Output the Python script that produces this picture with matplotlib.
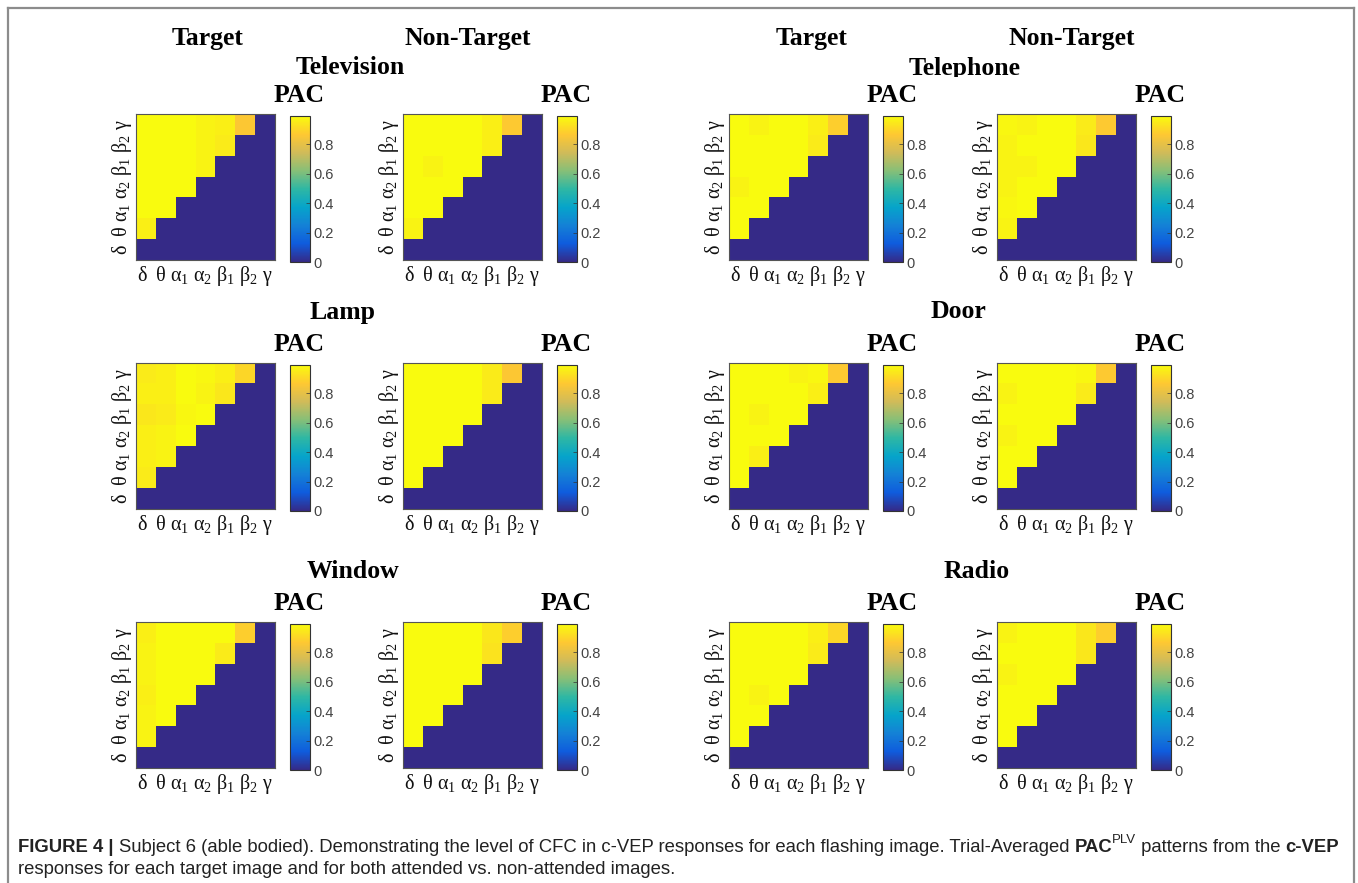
"""Figure 4 -- trial-averaged PAC(PLV) matrices, target vs non-target, 6 flashing images."""
import numpy as np
import matplotlib
matplotlib.use("Agg")
import matplotlib.pyplot as plt
from matplotlib.colors import LinearSegmentedColormap
from matplotlib.lines import Line2D
from matplotlib.patches import Rectangle

# band order (bottom -> top / left -> right)
BANDS = ["δ", "θ", "α1", "α2", "β1", "β2", "γ"]
OBJECTS = ["Television", "Telephone", "Lamp", "Door", "Window", "Radio"]
CONDITIONS = ["Target", "Non-Target"]
CBAR_TICKS = [0, 0.2, 0.4, 0.6, 0.8]

# PAC values, rows listed top (gamma) -> theta, columns delta -> ...
TV_TARGET = [[0.99, 0.99, 0.99, 0.97, 0.96, 0.86],
             [0.99, 0.99, 0.99, 0.97, 0.95],
             [0.99, 0.99, 0.99, 0.97],
             [0.99, 0.99, 0.99],
             [0.99, 0.99],
             [0.96]]
TV_NONTARGET = [[0.99, 0.99, 0.99, 0.99, 0.96, 0.87],
                [0.99, 0.99, 0.99, 0.99, 0.96],
                [0.99, 0.97, 0.99, 0.99],
                [0.99, 0.99, 0.99],
                [0.99, 0.99],
                [0.97]]
PHONE_TARGET = [[0.99, 0.97, 0.99, 0.99, 0.96, 0.88],
                [0.99, 0.99, 0.99, 0.99, 0.95],
                [0.99, 0.99, 0.99, 0.99],
                [0.97, 0.99, 0.99],
                [0.99, 0.99],
                [0.99]]
PHONE_NONTARGET = [[0.98, 0.97, 0.99, 0.99, 0.95, 0.87],
                   [0.97, 0.99, 0.99, 0.99, 0.94],
                   [0.97, 0.97, 0.99, 0.99],
                   [0.97, 0.99, 0.99],
                   [0.98, 0.99],
                   [0.97]]
LAMP_TARGET = [[0.95, 0.96, 0.99, 0.98, 0.96, 0.90],
               [0.96, 0.96, 0.99, 0.97, 0.94],
               [0.94, 0.95, 0.98, 0.99],
               [0.96, 0.97, 0.99],
               [0.96, 0.97],
               [0.95]]
LAMP_NONTARGET = [[0.99, 0.99, 0.99, 0.99, 0.95, 0.86],
                  [0.99, 0.99, 0.99, 0.99, 0.95],
                  [0.99, 0.99, 0.99, 0.99],
                  [0.99, 0.99, 0.99],
                  [0.99, 0.99],
                  [0.99]]
DOOR_TARGET = [[0.99, 0.99, 0.99, 0.97, 0.98, 0.87],
               [0.99, 0.99, 0.99, 0.99, 0.96],
               [0.99, 0.97, 0.99, 0.99],
               [0.99, 0.99, 0.99],
               [0.99, 0.96],
               [0.99]]
DOOR_NONTARGET = [[0.99, 0.99, 0.99, 0.99, 0.98, 0.87],
                  [0.97, 0.99, 0.99, 0.99, 0.95],
                  [0.99, 0.99, 0.99, 0.99],
                  [0.97, 0.99, 0.99],
                  [0.99, 0.99],
                  [0.99]]
WIN_TARGET = [[0.96, 0.99, 0.99, 0.99, 0.99, 0.88],
              [0.97, 0.99, 0.99, 0.99, 0.95],
              [0.97, 0.99, 0.99, 0.99],
              [0.96, 0.99, 0.99],
              [0.97, 0.99],
              [0.97]]
WIN_NONTARGET = [[0.99, 0.99, 0.99, 0.99, 0.94, 0.88],
                 [0.99, 0.99, 0.99, 0.99, 0.93],
                 [0.99, 0.99, 0.99, 0.99],
                 [0.99, 0.99, 0.99],
                 [0.99, 0.99],
                 [0.99]]
RADIO_TARGET = [[0.99, 0.99, 0.99, 0.99, 0.96, 0.90],
                [0.99, 0.99, 0.99, 0.99, 0.95],
                [0.99, 0.99, 0.99, 0.99],
                [0.99, 0.97, 0.99],
                [0.99, 0.99],
                [0.99]]
RADIO_NONTARGET = [[0.97, 0.99, 0.99, 0.99, 0.94, 0.88],
                   [0.99, 0.99, 0.99, 0.99, 0.94],
                   [0.97, 0.99, 0.99, 0.99],
                   [0.99, 0.99, 0.99],
                   [0.99, 0.99],
                   [0.99]]

PANELS = [[TV_TARGET, TV_NONTARGET, PHONE_TARGET, PHONE_NONTARGET],
          [LAMP_TARGET, LAMP_NONTARGET, DOOR_TARGET, DOOR_NONTARGET],
          [WIN_TARGET, WIN_NONTARGET, RADIO_TARGET, RADIO_NONTARGET]]

PARULA = LinearSegmentedColormap.from_list(
    "parula", ["#352a87", "#0f5cdd", "#1481d6", "#06a4ca", "#2eb7a4",
               "#87bf77", "#d1bb59", "#fec832", "#f9fb0e"])

W, H = 1358, 883
SERIF = "Liberation Serif"
plt.rcParams["mathtext.fontset"] = "custom"
plt.rcParams["mathtext.rm"] = SERIF
plt.rcParams["mathtext.it"] = SERIF
plt.rcParams["mathtext.bf"] = SERIF + ":bold"


def box(x, y, w, h):
    """pixel box (top-left origin) -> figure fraction rect"""
    return [x / W, 1 - (y + h) / H, w / W, h / H]


def pac_matrix(rows):
    m = np.zeros((len(BANDS), len(BANDS)))
    for k, vals in enumerate(rows):
        m[len(BANDS) - 1 - k, :len(vals)] = vals
    return m


def band_label():
    parts = []
    for b in BANDS:
        parts.append(b[0] + ("_" + b[1] if len(b) > 1 else ""))
    return "$" + r"\;\;".join(parts[:2]) + r"\ " + r"\ ".join(parts[2:]) + "$"


fig = plt.figure(figsize=(W / 100, H / 100), dpi=100)

col_x = [136, 403, 729, 997]
row_y = [114, 363, 622]
hw, hh = 139, 146
lab = band_label()

for r in range(3):
    for c in range(4):
        m = pac_matrix(PANELS[r][c])
        ax = fig.add_axes(box(col_x[c], row_y[r], hw, hh))
        im = ax.imshow(m, origin="lower", aspect="auto", cmap=PARULA,
                       vmin=0, vmax=m.max(), interpolation="nearest")
        ax.set_xticks([])
        ax.set_yticks([])
        for sp in ax.spines.values():
            sp.set_color("#555555")
            sp.set_linewidth(0.8)
        ax.text(0.5, -16 / hh, lab, transform=ax.transAxes, ha="center",
                va="center", fontsize=14.5, color="#111111")
        ax.text(-14 / hw, 0.5, lab, transform=ax.transAxes, ha="center",
                va="center", rotation=90, fontsize=14.5, color="#111111")
        ax.text(163 / hw, 1 + 18 / hh, "PAC", transform=ax.transAxes,
                ha="center", va="center", fontsize=18.5, family=SERIF,
                weight="bold")

        cax = fig.add_axes(box(col_x[c] + 154, row_y[r] + 2, 20, hh))
        cb = fig.colorbar(im, cax=cax, ticks=CBAR_TICKS)
        cb.ax.set_yticklabels([f"{t:g}" for t in CBAR_TICKS])
        cb.outline.set_linewidth(0.8)
        cb.outline.set_edgecolor("#333333")
        cb.ax.tick_params(direction="in", length=3, width=0.5, pad=2.5,
                          labelsize=10.5, labelcolor="#444444",
                          colors="#333333")
        for t in cb.ax.get_yticklabels():
            t.set_family("Liberation Sans")

# condition labels over the first row
for x, name in zip([208, 468, 812, 1072], CONDITIONS * 2):
    fig.text(x / W, 1 - 38 / H, name, ha="center", va="center",
             fontsize=18.5, family=SERIF, weight="bold")

# object names
obj_pos = [(350, 67), (965, 68), (342, 312), (958, 312), (353, 572), (977, 572)]
for (x, y), name in zip(obj_pos, OBJECTS):
    t = fig.text(x / W, 1 - y / H, name, ha="center", va="center",
                 fontsize=18.5, family=SERIF, weight="bold")
    if name == "Telephone":
        clip = Rectangle((0, 1 - 77 / H), 1, 1, transform=fig.transFigure)
        t.set_clip_path(clip)

# frame round the figure
for xs, ys in [([8, 8], [8, H + 5]), ([8, 1354], [8, 8]), ([1354, 1354], [8, H + 5])]:
    fig.add_artist(Line2D([x / W for x in xs], [1 - y / H for y in ys],
                          color="#8c8c8c", lw=1.6))

# caption, built from pieces so bold / superscript parts line up
CAP_FAMILY = ["Liberation Sans"]
cap_lines = [
    [("FIGURE 4 | ", "bold", 0), ("Subject 6 (able bodied). Demonstrating the level of CFC in "
     "c-VEP responses for each flashing image. Trial-Averaged ", "normal", 0),
     ("PAC", "bold", 0), ("PLV", "normal", 1), (" patterns from the ", "normal", 0),
     ("c-VEP", "bold", 0)],
    [("responses for each target image and for both attended vs. non-attended images.",
      "normal", 0)],
]
renderer = fig.canvas.get_renderer()
for y, pieces in zip([847, 870], cap_lines):
    x = 18
    for txt, wt, sup in pieces:
        size = 13.3 if not sup else 9.5
        yy = y - (7 if sup else 0)
        t = fig.text(x / W, 1 - yy / H, txt, ha="left", va="center",
                     fontsize=size, weight=wt, family=CAP_FAMILY, color="#222222")
        bb = t.get_window_extent(renderer)
        x += bb.width

fig.savefig("out.png", dpi=100)
